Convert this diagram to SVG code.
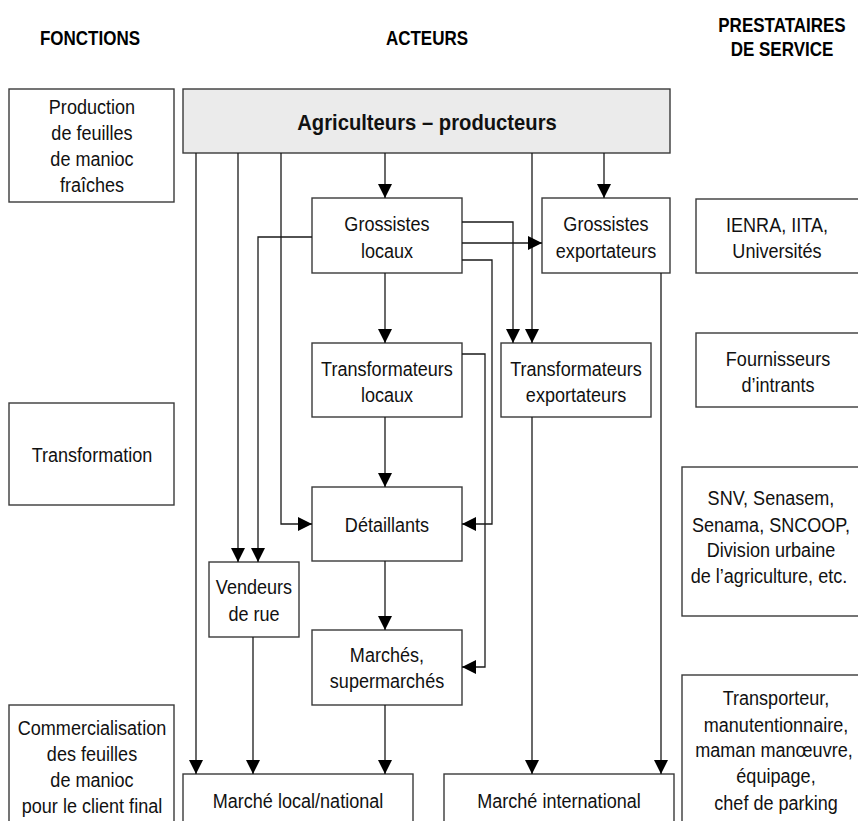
<svg xmlns="http://www.w3.org/2000/svg" width="858" height="821" viewBox="0 0 858 821">
<style>
  .box { fill: #ffffff; stroke: #3a3a3a; stroke-width: 1.4; }
  .main { fill: #ebebeb; stroke: #3a3a3a; stroke-width: 1.4; }
  text { transform-box: fill-box; transform-origin: center; }
  .t { font-family: "Liberation Sans", Arial, sans-serif; font-size: 21px; fill: #111; text-anchor: middle; transform: scaleX(0.86); }
  .tb { font-family: "Liberation Sans", Arial, sans-serif; font-size: 22px; font-weight: bold; fill: #111; text-anchor: middle; transform: scaleX(0.92); }
  .hd { font-family: "Liberation Sans", Arial, sans-serif; font-size: 20px; font-weight: bold; fill: #000; text-anchor: middle; transform: scaleX(0.85); }
  .c { fill: none; stroke: #1a1a1a; stroke-width: 1.3; marker-end: url(#ah); }
</style>
<defs>
  <marker id="ah" markerUnits="userSpaceOnUse" markerWidth="15" markerHeight="14" refX="14" refY="7" orient="auto">
    <path d="M0,0 L14,7 L0,14 Z" fill="#000"/>
  </marker>
</defs>
<rect width="858" height="821" fill="#ffffff"/>

<g id="headers">
  <text class="hd" x="90" y="45">FONCTIONS</text>
  <text class="hd" x="427" y="45">ACTEURS</text>
  <text class="hd" x="782" y="32">PRESTATAIRES</text>
  <text class="hd" x="782" y="56">DE SERVICE</text>
</g>

<g id="f-production">
  <rect class="box" x="9" y="89" width="165" height="113"/>
  <text class="t" x="92" y="114">Production</text>
  <text class="t" x="92" y="140">de feuilles</text>
  <text class="t" x="92" y="166">de manioc</text>
  <text class="t" x="92" y="192">fraîches</text>
</g>
<g id="f-transformation">
  <rect class="box" x="9" y="403" width="165" height="102"/>
  <text class="t" x="92" y="462">Transformation</text>
</g>
<g id="f-commercialisation">
  <rect class="box" x="9" y="705" width="165" height="125"/>
  <text class="t" x="92" y="735">Commercialisation</text>
  <text class="t" x="92" y="761">des feuilles</text>
  <text class="t" x="92" y="787">de manioc</text>
  <text class="t" x="92" y="813">pour le client final</text>
</g>

<g id="agriculteurs">
  <rect class="main" x="183" y="89" width="487" height="64"/>
  <text class="tb" x="427" y="130">Agriculteurs – producteurs</text>
</g>
<g id="grossistes-locaux">
  <rect class="box" x="312" y="198" width="150" height="75"/>
  <text class="t" x="387" y="231">Grossistes</text>
  <text class="t" x="387" y="258">locaux</text>
</g>
<g id="grossistes-exportateurs">
  <rect class="box" x="542" y="198" width="128" height="75"/>
  <text class="t" x="606" y="231">Grossistes</text>
  <text class="t" x="606" y="258">exportateurs</text>
</g>
<g id="transformateurs-locaux">
  <rect class="box" x="312" y="343" width="150" height="74"/>
  <text class="t" x="387" y="376">Transformateurs</text>
  <text class="t" x="387" y="402">locaux</text>
</g>
<g id="transformateurs-exportateurs">
  <rect class="box" x="501" y="343" width="150" height="74"/>
  <text class="t" x="576" y="376">Transformateurs</text>
  <text class="t" x="576" y="402">exportateurs</text>
</g>
<g id="detaillants">
  <rect class="box" x="312" y="487" width="150" height="74"/>
  <text class="t" x="387" y="532">Détaillants</text>
</g>
<g id="vendeurs">
  <rect class="box" x="209" y="562" width="90" height="75"/>
  <text class="t" x="254" y="594">Vendeurs</text>
  <text class="t" x="254" y="621">de rue</text>
</g>
<g id="marches">
  <rect class="box" x="312" y="630" width="150" height="75"/>
  <text class="t" x="387" y="662">Marchés,</text>
  <text class="t" x="387" y="688">supermarchés</text>
</g>
<g id="marche-local">
  <rect class="box" x="183" y="774" width="230" height="56"/>
  <text class="t" x="298" y="808">Marché local/national</text>
</g>
<g id="marche-international">
  <rect class="box" x="444" y="774" width="230" height="56"/>
  <text class="t" x="559" y="808">Marché international</text>
</g>

<g id="p-ienra">
  <rect class="box" x="696" y="199" width="170" height="74"/>
  <text class="t" x="777" y="232">IENRA, IITA,</text>
  <text class="t" x="777" y="258">Universités</text>
</g>
<g id="p-fournisseurs">
  <rect class="box" x="696" y="333" width="170" height="74"/>
  <text class="t" x="778" y="366">Fournisseurs</text>
  <text class="t" x="778" y="392">d’intrants</text>
</g>
<g id="p-snv">
  <rect class="box" x="682" y="467" width="184" height="149"/>
  <text class="t" x="771" y="505">SNV, Senasem,</text>
  <text class="t" x="771" y="532">Senama, SNCOOP,</text>
  <text class="t" x="771" y="557">Division urbaine</text>
  <text class="t" x="769" y="583">de l’agriculture, etc.</text>
</g>
<g id="p-transporteur">
  <rect class="box" x="682" y="675" width="184" height="155"/>
  <text class="t" x="776" y="705">Transporteur,</text>
  <text class="t" x="776" y="732">manutentionnaire,</text>
  <text class="t" x="774" y="757">maman manœuvre,</text>
  <text class="t" x="776" y="783">équipage,</text>
  <text class="t" x="776" y="810">chef de parking</text>
</g>

<g id="connectors">
  <path class="c" d="M196,153 V774"/>
  <path class="c" d="M238,153 V562"/>
  <path class="c" d="M281,153 V524 H312"/>
  <path class="c" d="M385,153 V198"/>
  <path class="c" d="M532,153 V343"/>
  <path class="c" d="M604,153 V198"/>
  <path class="c" d="M462,222 H513 V343"/>
  <path class="c" d="M462,243 H542"/>
  <path class="c" d="M462,260 H492 V524 H462"/>
  <path class="c" d="M312,237 H258 V562"/>
  <path class="c" d="M385,273 V343"/>
  <path class="c" d="M385,417 V487"/>
  <path class="c" d="M462,354 H485 V667 H462"/>
  <path class="c" d="M661,273 V774"/>
  <path class="c" d="M532,417 V774"/>
  <path class="c" d="M385,561 V630"/>
  <path class="c" d="M253,637 V774"/>
  <path class="c" d="M385,705 V774"/>
</g>
</svg>
